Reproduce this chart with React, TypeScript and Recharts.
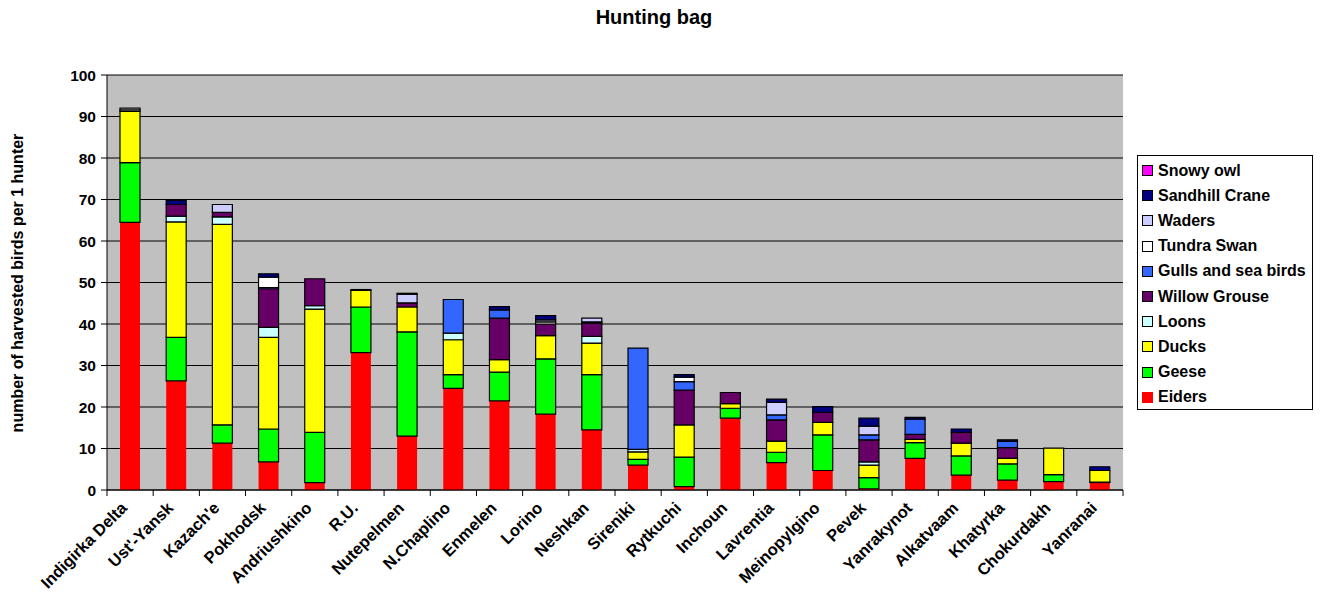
import React from "react"
import { BarChart, Bar, XAxis, YAxis, CartesianGrid } from "recharts"

// Harvested birds per hunter, by settlement and species group
const settlements = [
  "Indigirka Delta", "Ust'-Yansk", "Kazach'e", "Pokhodsk", "Andriushkino", "R.U.",
  "Nutepelmen", "N.Chaplino", "Enmelen", "Lorino", "Neshkan", "Sireniki",
  "Rytkuchi", "Inchoun", "Lavrentia", "Meinopylgino", "Pevek", "Yanrakynot",
  "Alkatvaam", "Khatyrka", "Chokurdakh", "Yanranai",
]

const eiders = [64.5, 26.3, 11.3, 6.8, 1.8, 33.1, 13.0, 24.5, 21.5, 18.3, 14.5, 6.0, 0.8, 17.3, 6.6, 4.7, 0.3, 7.6, 3.6, 2.4, 2.0, 1.8]
const geese = [14.4, 10.5, 4.4, 7.9, 12.1, 11.0, 25.1, 3.3, 6.9, 13.3, 13.3, 1.4, 7.1, 2.4, 2.5, 8.6, 2.7, 3.8, 4.6, 3.9, 1.7, 0.1]
const ducks = [12.3, 27.8, 48.3, 22.1, 29.7, 4.0, 6.0, 8.4, 3.0, 5.6, 7.6, 1.8, 7.8, 1.1, 2.7, 3.0, 3.0, 0.8, 3.1, 1.3, 6.4, 2.8]
const loons = [0.4, 1.4, 1.8, 2.4, 0.8, 0, 0, 1.6, 0, 0, 1.6, 0.6, 0, 0, 0, 0, 0.8, 0, 0, 0, 0, 0]
const willowGrouse = [0, 2.8, 1.1, 9.3, 6.5, 0, 1.0, 0, 10.0, 2.8, 3.2, 0, 8.4, 2.7, 5.1, 2.4, 5.3, 1.2, 2.6, 2.6, 0, 0]
const gulls = [0, 0, 0, 0.3, 0, 0, 0, 8.1, 2.0, 0, 0, 24.4, 2.0, 0, 1.2, 0, 1.2, 3.7, 0, 1.5, 0, 0]
const tundraSwan = [0.4, 0, 0, 2.5, 0, 0.2, 0, 0, 0, 0.5, 0.3, 0, 1.1, 0, 0, 0, 0, 0, 0, 0, 0, 0]
const waders = [0, 0, 1.9, 0, 0, 0, 2.1, 0, 0, 0.5, 0.9, 0, 0, 0, 3.0, 0, 2.1, 0, 0, 0, 0, 0]
const sandhillCrane = [0, 1.0, 0, 0.8, 0, 0, 0.2, 0, 0.8, 1.0, 0, 0, 0.6, 0, 0.8, 1.4, 1.9, 0.4, 0.8, 0.4, 0, 0.9]
const snowyOwl = [0, 0, 0, 0, 0, 0, 0, 0, 0, 0, 0, 0, 0, 0, 0, 0, 0, 0, 0, 0, 0, 0]

const yTicks = [0, 10, 20, 30, 40, 50, 60, 70, 80, 90, 100]

// stacking order, bottom to top
const series = [
  { key: "eiders", name: "Eiders", values: eiders, color: "#FF0000" },
  { key: "geese", name: "Geese", values: geese, color: "#00FF00" },
  { key: "ducks", name: "Ducks", values: ducks, color: "#FFFF00" },
  { key: "loons", name: "Loons", values: loons, color: "#CCFFFF" },
  { key: "willowGrouse", name: "Willow Grouse", values: willowGrouse, color: "#660066" },
  { key: "gulls", name: "Gulls and sea birds", values: gulls, color: "#3366FF" },
  { key: "tundraSwan", name: "Tundra Swan", values: tundraSwan, color: "#FFFFFF" },
  { key: "waders", name: "Waders", values: waders, color: "#CCCCFF" },
  { key: "sandhillCrane", name: "Sandhill Crane", values: sandhillCrane, color: "#000080" },
  { key: "snowyOwl", name: "Snowy owl", values: snowyOwl, color: "#FF00FF" },
]

const data = settlements.map((name, i) => {
  const row: Record<string, string | number> = { name }
  series.forEach((s) => (row[s.key] = s.values[i]))
  return row
})

const FONT = "'Liberation Sans', Arial, sans-serif"
const W = 1322
const H = 597
const margin = { top: 75, right: 199, left: 67, bottom: 7 }
const plotWidth = W - margin.left - margin.right - 40
const band = plotWidth / settlements.length

function CategoryTick(props: any) {
  const { x, y, payload, index } = props
  const tx = x - 2
  const ty = y + 19
  return (
    <g>
      <line x1={x - band / 2} y1={y} x2={x - band / 2} y2={y + 6} stroke="#000" />
      {index === settlements.length - 1 && (
        <line x1={x + band / 2} y1={y} x2={x + band / 2} y2={y + 6} stroke="#000" />
      )}
      <text
        x={tx}
        y={ty}
        textAnchor="end"
        transform={`rotate(-45, ${tx}, ${ty})`}
        fontFamily={FONT}
        fontWeight="bold"
        fontSize={16.5}
        fill="#000"
      >
        {payload.value}
      </text>
    </g>
  )
}

export default function App() {
  const legendItems = [...series].reverse()
  return (
    <div style={{ position: "relative", width: W, height: H, margin: -8, background: "#fff", fontFamily: FONT, overflow: "hidden" }}>
      <div
        style={{
          position: "absolute", left: 0, width: 1308, top: 6, textAlign: "center",
          fontWeight: "bold", fontSize: 20,
        }}
      >
        Hunting bag
      </div>
      <div
        style={{
          position: "absolute", left: 18, top: 283, width: 400, marginLeft: -200, textAlign: "center",
          transform: "rotate(-90deg)", fontWeight: "bold", fontSize: 16, lineHeight: "18px", marginTop: -9,
          whiteSpace: "nowrap",
        }}
      >
        number of harvested birds per 1 hunter
      </div>
      <BarChart width={W} height={H} data={data} margin={margin} barSize={20}>
        <CartesianGrid vertical={false} stroke="#000" fill="#C0C0C0" fillOpacity={1} />
        <XAxis
          dataKey="name"
          interval={0}
          tickLine={false}
          tickSize={0}
          tickMargin={0}
          height={100}
          axisLine={{ stroke: "#000" }}
          tick={<CategoryTick />}
        />
        <YAxis
          domain={[0, 100]}
          ticks={yTicks}
          width={40}
          interval={0}
          axisLine={{ stroke: "#000" }}
          tickLine={{ stroke: "#000" }}
          tickSize={6}
          tickMargin={5}
          tick={{ fill: "#000", fontSize: 15.5, fontWeight: "bold", fontFamily: FONT }}
        />
        <YAxis
          yAxisId="frame"
          orientation="right"
          width={0}
          tick={false}
          tickLine={false}
          axisLine={{ stroke: "#808080" }}
        />
        {series.map((s) => (
          <Bar
            key={s.key}
            dataKey={s.key}
            name={s.name}
            stackId="bag"
            fill={s.color}
            stroke={s.key === "eiders" ? "none" : "#000"}
            strokeWidth={1.2}
            isAnimationActive={false}
          />
        ))}
      </BarChart>
      <div
        style={{
          position: "absolute", left: 1137, top: 155, width: 176, height: 255,
          border: "1px solid #000", background: "#fff", boxSizing: "border-box",
          padding: "2px 0 0 4px",
        }}
      >
        {legendItems.map((s) => (
          <div key={s.key} style={{ height: 25.2, display: "flex", alignItems: "center", fontWeight: "bold", fontSize: 16, whiteSpace: "nowrap" }}>
            <span
              style={{
                display: "inline-block", width: 9, height: 9, background: s.color, flex: "none",
                border: s.key === "eiders" ? "1px solid " + s.color : "1px solid #000", marginRight: 5,
              }}
            />
            {s.name}
          </div>
        ))}
      </div>
    </div>
  )
}
